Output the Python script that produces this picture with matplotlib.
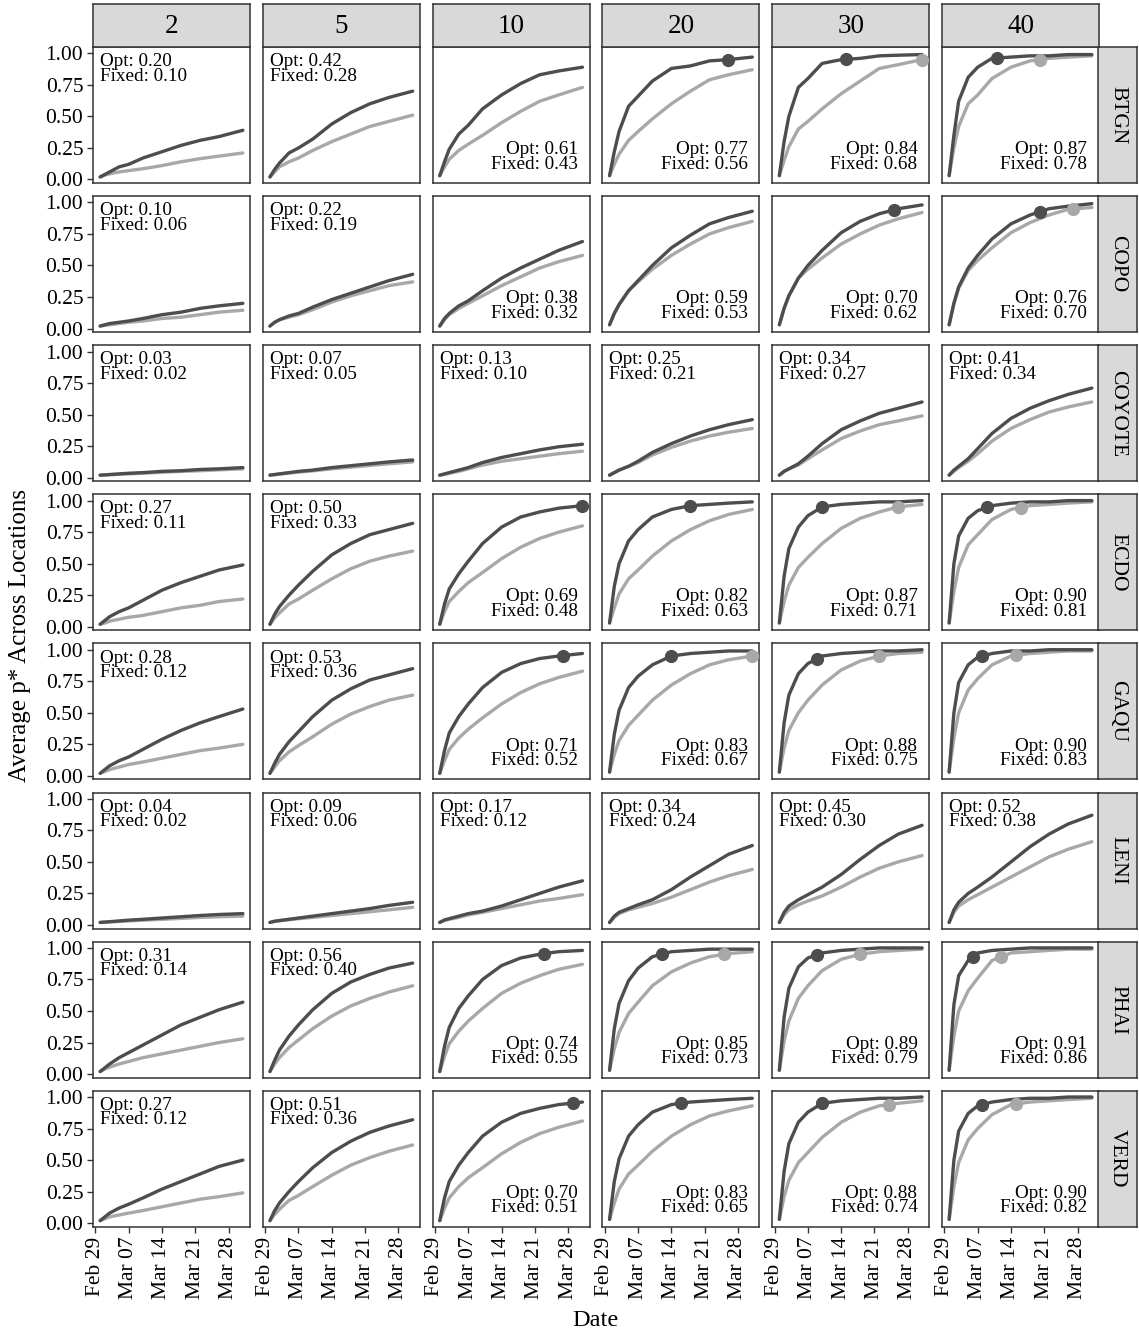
import numpy as np
import pandas as pd
import matplotlib
matplotlib.use('Agg')
import matplotlib.pyplot as plt
import matplotlib.dates as mdates

plt.rcParams['font.family'] = ['Liberation Serif', 'DejaVu Serif']

# days of March 2020 at which the cumulative p* curves are sampled
sample_days = [1, 2, 3, 5, 7, 10, 14, 18, 22, 26, 31]

species = ['BTGN', 'COPO', 'COYOTE', 'ECDO', 'GAQU', 'LENI', 'PHAI', 'VERD']
n_locations = ['2', '5', '10', '20', '30', '40']

# one row per number of locations (2, 5, 10, 20, 30, 40)
BTGN_OPT = [
    [0.02, 0.04, 0.06, 0.10, 0.12, 0.17, 0.22, 0.27, 0.31, 0.34, 0.39],
    [0.02, 0.08, 0.13, 0.21, 0.25, 0.32, 0.44, 0.53, 0.60, 0.65, 0.70],
    [0.03, 0.14, 0.24, 0.36, 0.43, 0.56, 0.67, 0.76, 0.83, 0.86, 0.89],
    [0.03, 0.22, 0.38, 0.58, 0.66, 0.78, 0.88, 0.90, 0.94, 0.95, 0.97],
    [0.03, 0.30, 0.50, 0.73, 0.80, 0.92, 0.95, 0.96, 0.98, 0.985, 0.99],
    [0.03, 0.35, 0.62, 0.81, 0.89, 0.96, 0.97, 0.98, 0.98, 0.99, 0.99],
]
BTGN_FIXED = [
    [0.02, 0.035, 0.045, 0.06, 0.07, 0.085, 0.11, 0.14, 0.165, 0.185, 0.21],
    [0.02, 0.06, 0.10, 0.14, 0.17, 0.23, 0.30, 0.36, 0.42, 0.46, 0.51],
    [0.03, 0.10, 0.16, 0.23, 0.28, 0.35, 0.45, 0.54, 0.62, 0.67, 0.73],
    [0.03, 0.12, 0.20, 0.31, 0.38, 0.48, 0.60, 0.70, 0.79, 0.83, 0.87],
    [0.03, 0.15, 0.26, 0.40, 0.46, 0.56, 0.68, 0.78, 0.88, 0.91, 0.95],
    [0.03, 0.25, 0.42, 0.60, 0.67, 0.80, 0.89, 0.94, 0.96, 0.97, 0.98],
]
COPO_OPT = [
    [0.02, 0.03, 0.04, 0.05, 0.06, 0.08, 0.11, 0.13, 0.16, 0.18, 0.20],
    [0.02, 0.05, 0.07, 0.10, 0.12, 0.17, 0.23, 0.28, 0.33, 0.38, 0.43],
    [0.02, 0.08, 0.12, 0.18, 0.22, 0.30, 0.40, 0.48, 0.55, 0.62, 0.69],
    [0.03, 0.12, 0.19, 0.30, 0.38, 0.50, 0.64, 0.74, 0.83, 0.88, 0.93],
    [0.03, 0.16, 0.26, 0.40, 0.50, 0.62, 0.76, 0.85, 0.91, 0.95, 0.98],
    [0.03, 0.20, 0.33, 0.48, 0.58, 0.71, 0.83, 0.90, 0.95, 0.97, 0.99],
]
COPO_FIXED = [
    [0.02, 0.025, 0.03, 0.04, 0.05, 0.06, 0.08, 0.09, 0.11, 0.13, 0.145],
    [0.02, 0.05, 0.07, 0.09, 0.11, 0.15, 0.21, 0.26, 0.30, 0.34, 0.37],
    [0.02, 0.07, 0.11, 0.16, 0.20, 0.26, 0.34, 0.41, 0.48, 0.53, 0.58],
    [0.03, 0.12, 0.19, 0.30, 0.37, 0.47, 0.58, 0.67, 0.75, 0.80, 0.85],
    [0.03, 0.16, 0.26, 0.40, 0.47, 0.56, 0.67, 0.75, 0.82, 0.87, 0.92],
    [0.03, 0.20, 0.32, 0.46, 0.54, 0.64, 0.76, 0.84, 0.90, 0.945, 0.96],
]
COYOTE_OPT = [
    [0.02, 0.022, 0.025, 0.03, 0.035, 0.04, 0.05, 0.055, 0.065, 0.07, 0.08],
    [0.02, 0.025, 0.03, 0.04, 0.05, 0.06, 0.08, 0.095, 0.11, 0.125, 0.14],
    [0.02, 0.03, 0.04, 0.06, 0.08, 0.12, 0.16, 0.19, 0.22, 0.245, 0.265],
    [0.02, 0.04, 0.06, 0.09, 0.13, 0.20, 0.27, 0.33, 0.38, 0.42, 0.46],
    [0.02, 0.05, 0.07, 0.11, 0.17, 0.27, 0.38, 0.45, 0.51, 0.55, 0.60],
    [0.02, 0.06, 0.09, 0.15, 0.23, 0.35, 0.47, 0.55, 0.61, 0.66, 0.71],
]
COYOTE_FIXED = [
    [0.02, 0.021, 0.023, 0.027, 0.03, 0.035, 0.043, 0.05, 0.055, 0.062, 0.07],
    [0.02, 0.024, 0.028, 0.036, 0.044, 0.054, 0.07, 0.083, 0.097, 0.11, 0.125],
    [0.02, 0.025, 0.035, 0.05, 0.07, 0.10, 0.13, 0.15, 0.17, 0.19, 0.21],
    [0.02, 0.04, 0.06, 0.09, 0.12, 0.18, 0.24, 0.29, 0.33, 0.36, 0.39],
    [0.02, 0.05, 0.07, 0.10, 0.15, 0.22, 0.31, 0.37, 0.42, 0.45, 0.49],
    [0.02, 0.05, 0.08, 0.13, 0.19, 0.29, 0.39, 0.46, 0.52, 0.56, 0.60],
]
ECDO_OPT = [
    [0.02, 0.05, 0.08, 0.12, 0.15, 0.21, 0.29, 0.35, 0.40, 0.45, 0.49],
    [0.02, 0.10, 0.16, 0.25, 0.33, 0.44, 0.57, 0.66, 0.73, 0.77, 0.82],
    [0.02, 0.18, 0.30, 0.42, 0.52, 0.66, 0.79, 0.87, 0.91, 0.94, 0.96],
    [0.03, 0.32, 0.50, 0.68, 0.77, 0.87, 0.93, 0.96, 0.97, 0.98, 0.99],
    [0.03, 0.40, 0.62, 0.79, 0.88, 0.95, 0.97, 0.98, 0.99, 0.99, 1.00],
    [0.03, 0.50, 0.72, 0.86, 0.92, 0.96, 0.98, 0.99, 0.99, 1.00, 1.00],
]
ECDO_FIXED = [
    [0.02, 0.03, 0.045, 0.06, 0.075, 0.09, 0.12, 0.15, 0.17, 0.20, 0.22],
    [0.02, 0.07, 0.11, 0.18, 0.22, 0.29, 0.38, 0.46, 0.52, 0.56, 0.60],
    [0.02, 0.12, 0.20, 0.28, 0.35, 0.43, 0.54, 0.63, 0.70, 0.75, 0.80],
    [0.03, 0.15, 0.26, 0.38, 0.45, 0.56, 0.68, 0.77, 0.84, 0.89, 0.93],
    [0.03, 0.20, 0.33, 0.47, 0.55, 0.66, 0.78, 0.86, 0.91, 0.95, 0.97],
    [0.03, 0.28, 0.47, 0.65, 0.73, 0.85, 0.93, 0.96, 0.97, 0.98, 0.99],
]
GAQU_OPT = [
    [0.02, 0.05, 0.08, 0.12, 0.15, 0.21, 0.29, 0.36, 0.42, 0.47, 0.53],
    [0.02, 0.10, 0.17, 0.27, 0.35, 0.47, 0.60, 0.69, 0.76, 0.80, 0.85],
    [0.02, 0.20, 0.34, 0.47, 0.57, 0.70, 0.82, 0.89, 0.93, 0.95, 0.97],
    [0.03, 0.33, 0.52, 0.70, 0.79, 0.88, 0.95, 0.97, 0.98, 0.99, 0.99],
    [0.03, 0.42, 0.64, 0.81, 0.89, 0.95, 0.97, 0.98, 0.99, 0.99, 1.00],
    [0.03, 0.50, 0.74, 0.88, 0.94, 0.97, 0.99, 0.99, 1.00, 1.00, 1.00],
]
GAQU_FIXED = [
    [0.02, 0.035, 0.05, 0.07, 0.09, 0.11, 0.14, 0.17, 0.20, 0.22, 0.25],
    [0.02, 0.07, 0.12, 0.19, 0.24, 0.31, 0.41, 0.49, 0.55, 0.60, 0.64],
    [0.02, 0.12, 0.21, 0.30, 0.37, 0.46, 0.57, 0.66, 0.73, 0.78, 0.83],
    [0.03, 0.17, 0.28, 0.40, 0.48, 0.60, 0.72, 0.81, 0.88, 0.92, 0.95],
    [0.03, 0.22, 0.36, 0.50, 0.60, 0.72, 0.84, 0.91, 0.95, 0.97, 0.98],
    [0.03, 0.30, 0.50, 0.68, 0.77, 0.88, 0.95, 0.97, 0.98, 0.99, 0.99],
]
LENI_OPT = [
    [0.02, 0.023, 0.026, 0.032, 0.038, 0.045, 0.055, 0.065, 0.075, 0.083, 0.09],
    [0.02, 0.03, 0.035, 0.045, 0.055, 0.07, 0.09, 0.11, 0.13, 0.155, 0.18],
    [0.02, 0.04, 0.05, 0.07, 0.09, 0.11, 0.15, 0.20, 0.25, 0.30, 0.35],
    [0.02, 0.07, 0.10, 0.13, 0.16, 0.20, 0.28, 0.38, 0.47, 0.56, 0.63],
    [0.02, 0.10, 0.15, 0.20, 0.24, 0.30, 0.40, 0.52, 0.63, 0.72, 0.79],
    [0.02, 0.12, 0.18, 0.25, 0.30, 0.38, 0.50, 0.62, 0.72, 0.80, 0.87],
]
LENI_FIXED = [
    [0.02, 0.022, 0.024, 0.028, 0.032, 0.038, 0.045, 0.052, 0.06, 0.065, 0.07],
    [0.02, 0.028, 0.033, 0.042, 0.05, 0.06, 0.075, 0.09, 0.105, 0.12, 0.14],
    [0.02, 0.035, 0.045, 0.06, 0.08, 0.10, 0.13, 0.16, 0.19, 0.21, 0.24],
    [0.02, 0.06, 0.09, 0.12, 0.14, 0.17, 0.22, 0.28, 0.34, 0.39, 0.44],
    [0.02, 0.08, 0.12, 0.16, 0.19, 0.23, 0.30, 0.38, 0.45, 0.50, 0.55],
    [0.02, 0.10, 0.15, 0.20, 0.24, 0.30, 0.38, 0.46, 0.54, 0.60, 0.66],
]
PHAI_OPT = [
    [0.02, 0.05, 0.08, 0.13, 0.17, 0.23, 0.31, 0.39, 0.45, 0.51, 0.57],
    [0.02, 0.11, 0.19, 0.30, 0.39, 0.51, 0.64, 0.73, 0.79, 0.84, 0.88],
    [0.02, 0.22, 0.37, 0.52, 0.62, 0.75, 0.86, 0.92, 0.95, 0.97, 0.98],
    [0.03, 0.36, 0.56, 0.74, 0.84, 0.93, 0.97, 0.98, 0.99, 0.99, 0.99],
    [0.03, 0.45, 0.68, 0.85, 0.92, 0.96, 0.98, 0.99, 1.00, 1.00, 1.00],
    [0.03, 0.55, 0.78, 0.90, 0.96, 0.98, 0.99, 1.00, 1.00, 1.00, 1.00],
]
PHAI_FIXED = [
    [0.02, 0.04, 0.055, 0.08, 0.10, 0.13, 0.16, 0.19, 0.22, 0.25, 0.28],
    [0.02, 0.08, 0.13, 0.21, 0.27, 0.36, 0.46, 0.54, 0.60, 0.65, 0.70],
    [0.02, 0.14, 0.24, 0.34, 0.42, 0.52, 0.64, 0.72, 0.78, 0.83, 0.87],
    [0.03, 0.20, 0.33, 0.48, 0.57, 0.70, 0.81, 0.88, 0.93, 0.955, 0.97],
    [0.03, 0.26, 0.42, 0.60, 0.70, 0.82, 0.91, 0.95, 0.97, 0.98, 0.99],
    [0.03, 0.30, 0.50, 0.66, 0.76, 0.90, 0.96, 0.97, 0.98, 0.99, 0.99],
]
VERD_OPT = [
    [0.02, 0.05, 0.08, 0.12, 0.15, 0.20, 0.27, 0.33, 0.39, 0.45, 0.50],
    [0.02, 0.10, 0.16, 0.25, 0.33, 0.44, 0.56, 0.65, 0.72, 0.77, 0.82],
    [0.02, 0.20, 0.33, 0.46, 0.56, 0.69, 0.80, 0.87, 0.91, 0.94, 0.96],
    [0.03, 0.33, 0.51, 0.69, 0.78, 0.88, 0.94, 0.96, 0.97, 0.98, 0.99],
    [0.03, 0.41, 0.63, 0.80, 0.88, 0.95, 0.97, 0.98, 0.99, 0.99, 1.00],
    [0.03, 0.50, 0.73, 0.87, 0.93, 0.96, 0.98, 0.99, 0.99, 1.00, 1.00],
]
VERD_FIXED = [
    [0.02, 0.035, 0.05, 0.065, 0.08, 0.10, 0.13, 0.16, 0.19, 0.21, 0.24],
    [0.02, 0.07, 0.11, 0.18, 0.22, 0.29, 0.38, 0.46, 0.52, 0.57, 0.62],
    [0.02, 0.12, 0.20, 0.29, 0.36, 0.44, 0.55, 0.64, 0.71, 0.76, 0.81],
    [0.03, 0.16, 0.27, 0.39, 0.46, 0.57, 0.69, 0.78, 0.85, 0.89, 0.93],
    [0.03, 0.21, 0.34, 0.48, 0.56, 0.68, 0.80, 0.88, 0.93, 0.95, 0.97],
    [0.03, 0.29, 0.48, 0.66, 0.75, 0.86, 0.94, 0.96, 0.97, 0.98, 0.99],
]

# mean p* over the whole season, one row per species
OPT_MEAN = [
    [0.20, 0.42, 0.61, 0.77, 0.84, 0.87],
    [0.10, 0.22, 0.38, 0.59, 0.70, 0.76],
    [0.03, 0.07, 0.13, 0.25, 0.34, 0.41],
    [0.27, 0.50, 0.69, 0.82, 0.87, 0.90],
    [0.28, 0.53, 0.71, 0.83, 0.88, 0.90],
    [0.04, 0.09, 0.17, 0.34, 0.45, 0.52],
    [0.31, 0.56, 0.74, 0.85, 0.89, 0.91],
    [0.27, 0.51, 0.70, 0.83, 0.88, 0.90],
]
FIXED_MEAN = [
    [0.10, 0.28, 0.43, 0.56, 0.68, 0.78],
    [0.06, 0.19, 0.32, 0.53, 0.62, 0.70],
    [0.02, 0.05, 0.10, 0.21, 0.27, 0.34],
    [0.11, 0.33, 0.48, 0.63, 0.71, 0.81],
    [0.12, 0.36, 0.52, 0.67, 0.75, 0.83],
    [0.02, 0.06, 0.12, 0.24, 0.30, 0.38],
    [0.14, 0.40, 0.55, 0.73, 0.79, 0.86],
    [0.12, 0.36, 0.51, 0.65, 0.74, 0.82],
]

# March day on which p* first reaches 0.95 (None = never)
OPT_DOT_DAY = [
    [None, None, None, 26, 15, 11],
    [None, None, None, None, 25, 20],
    [None, None, None, None, None, None],
    [None, None, 31, 18, 10, 9],
    [None, None, 27, 14, 9, 8],
    [None, None, None, None, None, None],
    [None, None, 23, 12, 9, 6],
    [None, None, 29, 16, 10, 8],
]
FIXED_DOT_DAY = [
    [None, None, None, None, 31, 20],
    [None, None, None, None, None, 27],
    [None, None, None, None, None, None],
    [None, None, None, None, 26, 16],
    [None, None, None, 31, 22, 15],
    [None, None, None, None, None, None],
    [None, None, None, 25, 18, 12],
    [None, None, None, None, 24, 15],
]

curves = {
    'BTGN': (BTGN_OPT, BTGN_FIXED), 'COPO': (COPO_OPT, COPO_FIXED),
    'COYOTE': (COYOTE_OPT, COYOTE_FIXED), 'ECDO': (ECDO_OPT, ECDO_FIXED),
    'GAQU': (GAQU_OPT, GAQU_FIXED), 'LENI': (LENI_OPT, LENI_FIXED),
    'PHAI': (PHAI_OPT, PHAI_FIXED), 'VERD': (VERD_OPT, VERD_FIXED),
}

# where the mean labels sit in each panel
label_corner = {
    'BTGN': ['tl', 'tl', 'br', 'br', 'br', 'br'],
    'COPO': ['tl', 'tl', 'br', 'br', 'br', 'br'],
    'COYOTE': ['tl'] * 6,
    'ECDO': ['tl', 'tl', 'br', 'br', 'br', 'br'],
    'GAQU': ['tl', 'tl', 'br', 'br', 'br', 'br'],
    'LENI': ['tl'] * 6,
    'PHAI': ['tl', 'tl', 'br', 'br', 'br', 'br'],
    'VERD': ['tl', 'tl', 'br', 'br', 'br', 'br'],
}

dark = '#4d4d4d'
light = '#a8a8a8'
frame = '#333333'
strip_fill = '#d9d9d9'

dates = pd.to_datetime(['2020-03-%02d' % d for d in sample_days])
date_num = mdates.date2num(dates)
xlim = (pd.Timestamp('2020-02-28 12:00'), pd.Timestamp('2020-04-01 12:00'))
xticks = pd.to_datetime(['2020-02-29', '2020-03-07', '2020-03-14', '2020-03-21', '2020-03-28'])

W, H = 1139, 1335
fig = plt.figure(figsize=(W / 100, H / 100), dpi=100)


def rect(x0, y0, w, h):
    return [x0 / W, 1 - (y0 + h) / H, w / W, h / H]


col_x = [93 + c * 169.8 for c in range(6)]
row_y = [47 + r * 149.1 for r in range(8)]
pw, ph = 157, 136


def style_box(ax):
    for s in ax.spines.values():
        s.set_color(frame)
        s.set_linewidth(1.1)


for r, sp in enumerate(species):
    opt_rows, fixed_rows = curves[sp]
    for c in range(6):
        ax = fig.add_axes(rect(col_x[c], row_y[r], pw, ph))
        style_box(ax)
        opt = np.array(opt_rows[c])
        fixed = np.array(fixed_rows[c])
        ax.plot(dates, fixed, color=light, lw=2.4, solid_joinstyle='round', solid_capstyle='round')
        ax.plot(dates, opt, color=dark, lw=2.4, solid_joinstyle='round', solid_capstyle='round')
        for day, vals, col in ((FIXED_DOT_DAY[r][c], fixed, light), (OPT_DOT_DAY[r][c], opt, dark)):
            if day is not None:
                d = mdates.date2num(pd.Timestamp(2020, 3, day))
                ax.plot(mdates.num2date(d), np.interp(d, date_num, vals), 'o',
                        color=col, ms=8.5, zorder=5)
        ax.set_xlim(*xlim)
        ax.set_ylim(-0.028, 1.05)
        ax.set_yticks([0, 0.25, 0.5, 0.75, 1.0])
        ax.set_xticks(xticks)
        ax.xaxis.set_major_formatter(mdates.DateFormatter('%b %d'))
        ax.tick_params(length=4, width=1.0, color=frame, labelsize=15.5, labelcolor='black', pad=3)
        if c == 0:
            ax.set_yticklabels(['%.2f' % v for v in [0, 0.25, 0.5, 0.75, 1.0]])
        else:
            ax.tick_params(axis='y', length=0, labelleft=False)
        if r == len(species) - 1:
            plt.setp(ax.get_xticklabels(), rotation=90)
        else:
            ax.tick_params(axis='x', length=0, labelbottom=False)

        label = 'Opt: %.2f\nFixed: %.2f' % (OPT_MEAN[r][c], FIXED_MEAN[r][c])
        if label_corner[sp][c] == 'tl':
            ax.text(0.045, 0.955, label, transform=ax.transAxes, ha='left', va='top',
                    fontsize=13.8, linespacing=0.82)
        else:
            ax.text(0.925, 0.075, label, transform=ax.transAxes, ha='right', va='bottom',
                    fontsize=13.8, linespacing=0.82, multialignment='right')

    # species strip on the right
    sax = fig.add_axes(rect(1098, row_y[r], 39, ph))
    sax.set_facecolor(strip_fill)
    style_box(sax)
    sax.set_xticks([])
    sax.set_yticks([])
    sax.text(0.5, 0.5, sp, rotation=-90, ha='center', va='center', fontsize=15.5,
             transform=sax.transAxes)

# number-of-locations strips on top
for c, lab in enumerate(n_locations):
    tax = fig.add_axes(rect(col_x[c], 4, pw, 43))
    tax.set_facecolor(strip_fill)
    style_box(tax)
    tax.set_xticks([])
    tax.set_yticks([])
    tax.text(0.5, 0.47, lab, ha='center', va='center', fontsize=19.5, transform=tax.transAxes)

fig.text(20 / W, 1 - 636 / H, 'Average p* Across Locations', rotation=90,
         ha='center', va='center', fontsize=18)
fig.text(595 / W, 1 - 1321 / H, 'Date', ha='center', va='center', fontsize=17.5)

fig.savefig('out.png', dpi=100, facecolor='white')
